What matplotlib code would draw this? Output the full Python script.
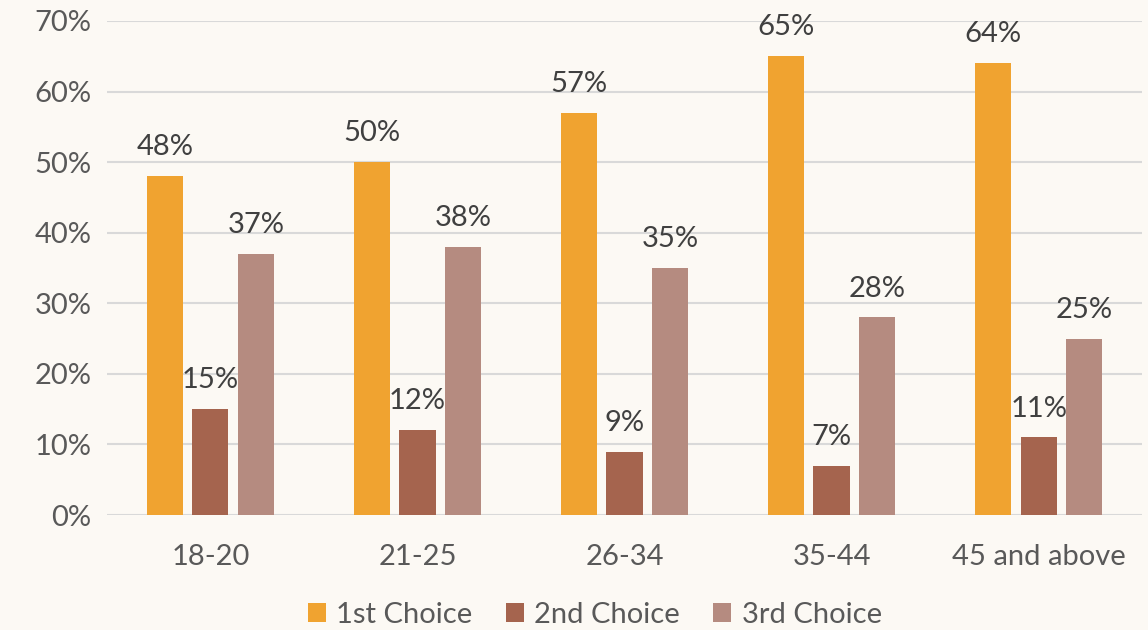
import matplotlib
matplotlib.use("Agg")
import matplotlib.pyplot as plt
import numpy as np

categories = ["18-20", "21-25", "26-34", "35-44", "45 and above"]
series_names = ["1st Choice", "2nd Choice", "3rd Choice"]
first = [48, 50, 57, 65, 64]
second = [15, 12, 9, 7, 11]
third = [37, 38, 35, 28, 25]
yticks = [0, 10, 20, 30, 40, 50, 60, 70]

colors = ["#F0A330", "#A5644E", "#B58B80"]
bg = "#FCF9F4"

plt.rcParams['font.family'] = ['Lato', 'DejaVu Sans']
fs = 21

fig = plt.figure(figsize=(11.48, 6.3), dpi=100, facecolor=bg)
ax = fig.add_axes([0.093, 0.1825, 0.902, 0.7842])
ax.set_facecolor(bg)

x = np.arange(len(categories))
width = 0.175
offset = 0.22
for i, (vals, name, c) in enumerate(zip([first, second, third], series_names, colors)):
    bars = ax.bar(x + (i - 1) * offset, vals, width, color=c, label=name, zorder=3)
    for b, v in zip(bars, vals):
        ax.annotate(f"{v}%", (b.get_x() + b.get_width() / 2, v), xytext=(0, 15),
                    textcoords="offset points", ha="center", va="baseline",
                    fontsize=fs, color="#404040")

ax.set_xlim(-0.5, len(categories) - 0.5)
ax.set_ylim(0, 70)
ax.set_yticks(yticks)
ax.set_yticklabels([f"{t}%" for t in yticks])
ax.set_xticks(x)
ax.set_xticklabels(categories)
ax.tick_params(axis="both", length=0, labelsize=fs, labelcolor="#595959")
ax.tick_params(axis="y", pad=11)
ax.tick_params(axis="x", pad=21)
ax.grid(axis="y", color="#D9D9D9", linewidth=1.5, zorder=0)
for s in ax.spines.values():
    s.set_visible(False)

leg = fig.legend(loc="center", bbox_to_anchor=(0.518, 0.024), ncol=3, frameon=False,
                 fontsize=fs, handlelength=0.62, handleheight=0.62, columnspacing=1.15,
                 handletextpad=0.35, labelcolor="#595959", borderpad=0.2)

fig.savefig("out.png", dpi=100, facecolor=bg)
